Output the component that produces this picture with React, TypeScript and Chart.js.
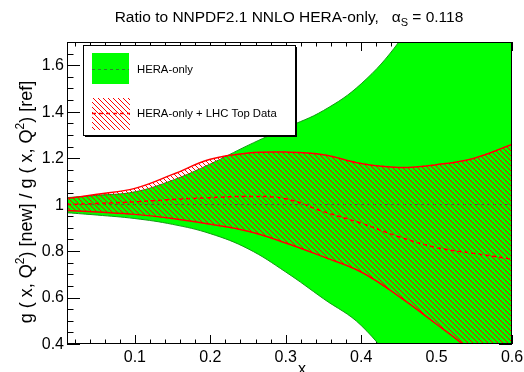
import React, { useEffect, useRef } from 'react';
import { Chart, registerables } from 'chart.js';

Chart.register(...registerables);

// ---------------- data ----------------
const xValues = [0.01, 0.05, 0.1, 0.15, 0.2, 0.25, 0.3, 0.35, 0.4, 0.45, 0.5, 0.55, 0.6];
const heraUpper = [1.03, 1.04, 1.055, 1.105, 1.175, 1.255, 1.33, 1.405, 1.52, 1.7, 1.95, 2.25, 2.6];
const heraLower = [0.965, 0.955, 0.94, 0.915, 0.875, 0.81, 0.71, 0.595, 0.48, 0.28, 0.02, -0.3, -0.65];
const heraCentral = [1, 1, 1, 1, 1, 1, 1, 1, 1, 1, 1, 1, 1];
const topUpper = [1.026, 1.045, 1.07, 1.13, 1.195, 1.222, 1.226, 1.215, 1.177, 1.16, 1.172, 1.2, 1.259];
const topLower = [0.975, 0.968, 0.958, 0.94, 0.915, 0.885, 0.835, 0.775, 0.71, 0.605, 0.485, 0.36, 0.22];
const topCentral = [1.0, 1.005, 1.012, 1.022, 1.03, 1.035, 1.025, 0.97, 0.92, 0.862, 0.815, 0.79, 0.765];

const xMajorTicks = [0.1, 0.2, 0.3, 0.4, 0.5, 0.6];
const xTickLabels = ['0.1', '0.2', '0.3', '0.4', '0.5', '0.6'];
const yMajorTicks = [0.4, 0.6, 0.8, 1.0, 1.2, 1.4, 1.6];
const yTickLabels = ['0.4', '0.6', '0.8', '1', '1.2', '1.4', '1.6'];
const xMinorStep = 0.02;
const yMinorStep = 0.05;

const legendLabels = ['HERA-only', 'HERA-only + LHC Top Data'];
const titleMain = 'Ratio to NNPDF2.1 NNLO HERA-only,   ';
const titleAlpha = '\u03b1';
const titleSub = 'S';
const titleTail = ' = 0.118';
const yTitleParts = ['g ( x, Q', '2', ') [new] / g ( x, Q', '2', ') [ref]'];
const xTitle = 'x';

// ---------------- style ----------------
const FONT = '"Liberation Sans", Arial, Helvetica, sans-serif';
const GREEN = '#00ff00';
const GREEN_EDGE = '#109a10';
const GREEN_DASH = '#2f7f2f';
const RED = '#ff0000';

function makeHatch(ctx: CanvasRenderingContext2D): CanvasPattern | string {
  const c = document.createElement('canvas');
  c.width = 5;
  c.height = 5;
  const g = c.getContext('2d');
  if (!g) return RED;
  g.fillStyle = RED;
  for (let i = 0; i < 5; i++) g.fillRect(i, i, 1, 1);
  return ctx.createPattern(c, 'repeat') || RED;
}

const pts = (ys: number[]) => xValues.map((x, i) => ({ x, y: ys[i] }));

const rootPlugin = {
  id: 'rootStyle',
  beforeDatasetsDraw(chart: any) {
    const { ctx, chartArea: ca, scales } = chart;
    const xs = scales.x;
    const ys = scales.y;
    ctx.save();
    ctx.strokeStyle = '#000';
    ctx.lineWidth = 1;
    ctx.beginPath();
    for (let v = 0.02; v <= 0.6001; v += xMinorStep) {
      const major = Math.abs(v * 10 - Math.round(v * 10)) < 1e-6;
      const len = major ? 9 : 4.5;
      const px = Math.round(xs.getPixelForValue(v)) + 0.5;
      ctx.moveTo(px, ca.bottom);
      ctx.lineTo(px, ca.bottom - len);
      ctx.moveTo(px, ca.top);
      ctx.lineTo(px, ca.top + len);
    }
    for (let v = 0.4; v <= 1.7001; v += yMinorStep) {
      const major = Math.abs(v * 5 - Math.round(v * 5)) < 1e-6;
      const len = major ? 13 : 6.5;
      const py = Math.round(ys.getPixelForValue(v)) + 0.5;
      ctx.moveTo(ca.left, py);
      ctx.lineTo(ca.left + len, py);
      ctx.moveTo(ca.right, py);
      ctx.lineTo(ca.right - len, py);
    }
    ctx.stroke();
    ctx.restore();
  },
  afterDatasetsDraw(chart: any) {
    const { ctx, chartArea: ca, scales } = chart;
    const xs = scales.x;
    const ys = scales.y;
    const hatch = chart.$hatch;
    ctx.save();
    ctx.strokeStyle = '#000';
    ctx.lineWidth = 1;
    ctx.strokeRect(ca.left + 0.5, ca.top + 0.5, ca.right - ca.left - 1, ca.bottom - ca.top - 1);

    ctx.fillStyle = '#000';
    ctx.font = `16px ${FONT}`;
    ctx.textAlign = 'center';
    ctx.textBaseline = 'alphabetic';
    xMajorTicks.forEach((v, i) => {
      ctx.fillText(xTickLabels[i], xs.getPixelForValue(v), 362);
    });
    ctx.textAlign = 'right';
    ctx.textBaseline = 'middle';
    yMajorTicks.forEach((v, i) => {
      ctx.fillText(yTickLabels[i], 64, ys.getPixelForValue(v) + 0.5);
    });

    ctx.textAlign = 'center';
    ctx.textBaseline = 'alphabetic';
    ctx.font = `16px ${FONT}`;
    ctx.fillText(xTitle, 302, 374);

    ctx.save();
    ctx.translate(32, 202);
    ctx.rotate(-Math.PI / 2);
    const big = `18px ${FONT}`;
    const small = `12px ${FONT}`;
    let total = 0;
    yTitleParts.forEach((p, i) => {
      ctx.font = i % 2 === 1 ? small : big;
      total += ctx.measureText(p).width;
    });
    let cx = -total / 2;
    ctx.textAlign = 'left';
    ctx.textBaseline = 'alphabetic';
    yTitleParts.forEach((p, i) => {
      const sup = i % 2 === 1;
      ctx.font = sup ? small : big;
      ctx.fillText(p, cx, sup ? -8 : 0);
      cx += ctx.measureText(p).width;
    });
    ctx.restore();

    const tBig = `15.5px ${FONT}`;
    const tSub = `11px ${FONT}`;
    ctx.font = tBig;
    const w1 = ctx.measureText(titleMain).width;
    const w2 = ctx.measureText(titleAlpha).width;
    const w4 = ctx.measureText(titleTail).width;
    ctx.font = tSub;
    const w3 = ctx.measureText(titleSub).width;
    let tx = 289 - (w1 + w2 + w3 + w4) / 2;
    ctx.textAlign = 'left';
    ctx.font = tBig;
    ctx.fillText(titleMain, tx, 22);
    tx += w1;
    ctx.fillText(titleAlpha, tx, 22);
    tx += w2;
    ctx.font = tSub;
    ctx.fillText(titleSub, tx, 26);
    tx += w3;
    ctx.font = tBig;
    ctx.fillText(titleTail, tx, 22);

    const lx = 83.5, ly = 45.5, lw = 212, lh = 90;
    ctx.fillStyle = '#000';
    ctx.fillRect(lx + 1.5, ly + lh, lw, 1.5);
    ctx.fillRect(lx + lw, ly + 1.5, 1.5, lh);
    ctx.fillStyle = '#fff';
    ctx.fillRect(lx, ly, lw, lh);
    ctx.strokeStyle = '#000';
    ctx.lineWidth = 1;
    ctx.strokeRect(lx, ly, lw, lh);

    ctx.fillStyle = GREEN;
    ctx.fillRect(92, 53, 37, 31);
    ctx.strokeStyle = GREEN_DASH;
    ctx.setLineDash([3, 3]);
    ctx.beginPath();
    ctx.moveTo(92, 69.5);
    ctx.lineTo(129, 69.5);
    ctx.stroke();
    ctx.fillStyle = hatch || RED;
    ctx.fillRect(92, 98, 38, 32);
    ctx.strokeStyle = RED;
    ctx.lineWidth = 1.5;
    ctx.setLineDash([4, 3]);
    ctx.beginPath();
    ctx.moveTo(92, 113.5);
    ctx.lineTo(130, 113.5);
    ctx.stroke();
    ctx.setLineDash([]);

    ctx.fillStyle = '#000';
    ctx.font = `11.3px ${FONT}`;
    ctx.textAlign = 'left';
    ctx.textBaseline = 'middle';
    ctx.fillText(legendLabels[0], 137, 69.5);
    ctx.fillText(legendLabels[1], 137, 113.5);

    ctx.restore();
  },
};

export default function App() {
  const ref = useRef<HTMLCanvasElement | null>(null);
  useEffect(() => {
    const canvas = ref.current;
    if (!canvas) return;
    const ctx = canvas.getContext('2d');
    if (!ctx) return;
    const hatch = makeHatch(ctx);
    const common = {
      pointRadius: 0,
      pointHoverRadius: 0,
      tension: 0.4,
      capBezierPoints: false,
    };
    const chart: any = new Chart(ctx, {
      type: 'line',
      data: {
        datasets: [
          { ...common, label: 'HERA-only upper', data: pts(heraUpper), borderColor: GREEN_EDGE, borderWidth: 1, backgroundColor: GREEN, fill: '+1', order: 10 },
          { ...common, label: 'HERA-only lower', data: pts(heraLower), borderColor: GREEN_EDGE, borderWidth: 1, fill: false, order: 9 },
          { ...common, label: legendLabels[0], data: pts(heraCentral), borderColor: GREEN_DASH, borderWidth: 1, borderDash: [3, 3], fill: false, order: 8 },
          { ...common, label: 'Top upper', data: pts(topUpper), borderColor: RED, borderWidth: 1.5, backgroundColor: hatch as any, fill: '+1', order: 7 },
          { ...common, label: 'Top lower', data: pts(topLower), borderColor: RED, borderWidth: 1.5, fill: false, order: 6 },
          { ...common, label: legendLabels[1], data: pts(topCentral), borderColor: RED, borderWidth: 1.5, borderDash: [4, 3], fill: false, order: 5 },
        ],
      },
      options: {
        responsive: false,
        animation: false,
        devicePixelRatio: 1,
        events: [],
        layout: { padding: { left: 67, top: 42, right: 12, bottom: 28 } },
        scales: {
          x: { type: 'linear', min: 0.01, max: 0.6, display: false },
          y: { type: 'linear', min: 0.4, max: 1.7, display: false },
        },
        plugins: {
          legend: { display: false },
          tooltip: { enabled: false },
          title: { display: false },
        },
      },
      plugins: [rootPlugin],
    });
    chart.$hatch = hatch;
    chart.draw();
    return () => chart.destroy();
  }, []);
  return (
    <div style={{ position: 'fixed', left: 0, top: 0, width: 524, height: 372, background: '#fff' }}>
      <canvas ref={ref} width={524} height={372} style={{ display: 'block', width: 524, height: 372 }} />
    </div>
  );
}
